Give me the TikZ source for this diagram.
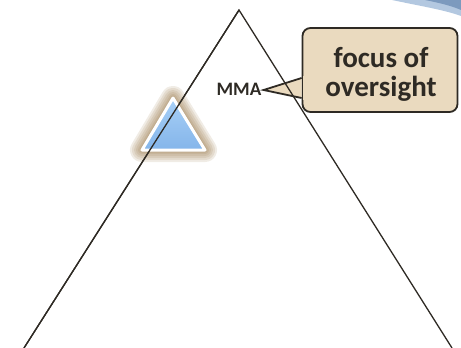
\documentclass[tikz,border=0pt]{standalone}
\usepackage{fontspec}
\setmainfont{Carlito}
\usetikzlibrary{calc}

\definecolor{inkdark}{HTML}{2E2A24}
\definecolor{calloutfill}{HTML}{EADABF}
\definecolor{glowbrown}{HTML}{8E6A36}
\definecolor{swooshlight}{HTML}{B3C8E0}
\definecolor{swooshdark}{HTML}{6F8FB6}
\definecolor{marktop}{HTML}{A8D0F7}
\definecolor{markbottom}{HTML}{84B5EA}

\tikzset{
  bigline/.style={draw=inkdark, line width=1.3pt},
  calloutbox/.style={draw=inkdark, line width=1.8pt, fill=calloutfill, rounded corners=8pt,
    minimum width=155pt, minimum height=84pt},
  callouttext/.style={align=center, text=inkdark, inner sep=0pt,
    font=\bfseries\fontsize{29}{29}\selectfont},
  marklabel/.style={text=inkdark, font=\bfseries\fontsize{19}{21}\selectfont, inner sep=1pt}
}

\begin{document}
\begin{tikzpicture}[x=1pt, y=-1pt]

\useasboundingbox (0,0) rectangle (461,348);

% plot the blue swoosh in the corner
\fill[swooshlight]
  (392,0) .. controls (420,6) and (445,10) .. (461,16) -- (461,0) -- cycle;
\fill[swooshdark, opacity=0.8]
  (425,0) .. controls (440,3) and (452,6) .. (461,10) -- (461,0) -- cycle;

% plot the callout
\node[calloutbox] (focus) at (380,70) {};
\node[callouttext] (focus_text) at ($(focus.center)+(1,4)$) {focus of\\oversight};
\node[marklabel] (mma) at (239,89) {MMA};
\coordinate (tip) at ($(mma.east)+(1,1)$);
\filldraw[draw=inkdark, line width=1.8pt, fill=calloutfill, line join=miter]
  ($(focus.west)+(0,8)$) -- (tip) -- ($(focus.west)+(0,28)$);
\fill[calloutfill] ($(focus.west)+(1,6)$) rectangle ($(focus.west)+(6,30)$);

% plot the big triangle
\coordinate (apex) at (239,10);
\coordinate (left_base) at (24,348);
\coordinate (right_base) at (452,348);
\draw[bigline] (left_base) -- (apex) -- (right_base);

% plot the small marker triangle with its glow
\coordinate (m_top) at (173,98);
\coordinate (m_left) at (142,150);
\coordinate (m_right) at (205,150);
\foreach \w in {24,20,16,12,8,5}
  \draw[glowbrown, opacity=0.13, line width=\w pt, line join=round]
    (m_top) -- (m_left) -- (m_right) -- cycle;
\filldraw[draw=white, line width=3pt, top color=marktop, bottom color=markbottom, line join=round]
  (m_top) -- (m_left) -- (m_right) -- cycle;

\draw[bigline] (apex) -- (left_base);

\end{tikzpicture}
\end{document}
